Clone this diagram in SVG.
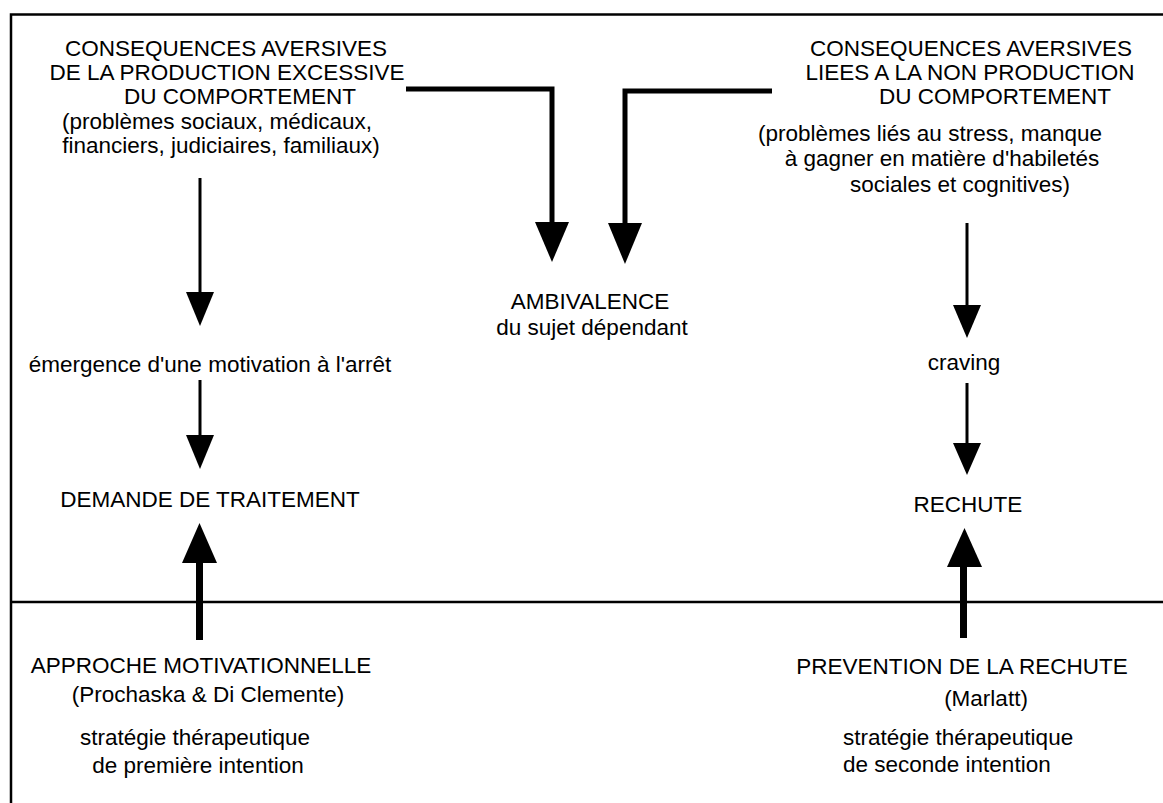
<svg xmlns="http://www.w3.org/2000/svg" width="1163" height="803" viewBox="0 0 1163 803">
<style>
text{font-family:"Liberation Sans",Arial,Helvetica,sans-serif;font-size:22.5px;fill:#000}
.m{text-anchor:middle}
.frame{stroke:#000;stroke-width:2.5;fill:none}
.thin{stroke:#000;stroke-width:3;fill:none}
.thick{stroke:#000;stroke-width:5;fill:none}
.up{stroke:#000;stroke-width:7;fill:none}
.head{fill:#000;stroke:none}
</style>
<rect width="1163" height="803" fill="#fff"/>
<g id="frame">
<path class="frame" d="M11,803 V14.5 H1163"/>
<path class="frame" d="M11,602 H1163"/>
</g>
<g id="connectors">
<path class="thin" d="M200,178 V294"/>
<polygon class="head" points="186,292 214,292 200,326"/>
<path class="thin" d="M200,380 V437"/>
<polygon class="head" points="186,435 214,435 200,469"/>
<path class="up" d="M199.5,640 V561"/>
<polygon class="head" points="182,563 217,563 199.5,523"/>
<path class="thick" d="M406,89 H552 V224"/>
<polygon class="head" points="535,222 569,222 552,262"/>
<path class="thick" d="M772,91 H625 V225"/>
<polygon class="head" points="608,223 642,223 625,264"/>
<path class="thin" d="M967,223 V307"/>
<polygon class="head" points="953,305 981,305 967,338"/>
<path class="thin" d="M967,383 V445"/>
<polygon class="head" points="953,443 981,443 967,475"/>
<path class="up" d="M963.5,638 V565"/>
<polygon class="head" points="947,567 982,567 964.5,528"/>
</g>
<g id="node-excess">
<text class="m" x="226" y="56">CONSEQUENCES AVERSIVES</text>
<text class="m" x="227" y="80">DE LA PRODUCTION EXCESSIVE</text>
<text class="m" x="240" y="104">DU COMPORTEMENT</text>
<text class="m" x="217" y="129">(problèmes sociaux, médicaux,</text>
<text class="m" x="221" y="153">financiers, judiciaires, familiaux)</text>
</g>
<g id="node-nonprod">
<text class="m" x="971" y="56">CONSEQUENCES AVERSIVES</text>
<text class="m" x="970" y="80">LIEES A LA NON PRODUCTION</text>
<text class="m" x="995" y="104">DU COMPORTEMENT</text>
<text class="m" x="930" y="141">(problèmes liés au stress, manque</text>
<text class="m" x="942" y="166">à gagner en matière d'habiletés</text>
<text class="m" x="960" y="192">sociales et cognitives)</text>
</g>
<g id="node-ambivalence">
<text class="m" x="590" y="309">AMBIVALENCE</text>
<text class="m" x="592" y="335">du sujet dépendant</text>
</g>
<g id="node-emergence">
<text class="m" x="210" y="372">émergence d'une motivation à l'arrêt</text>
</g>
<g id="node-demande">
<text class="m" x="210" y="507">DEMANDE DE TRAITEMENT</text>
</g>
<g id="node-craving">
<text class="m" x="964" y="370">craving</text>
</g>
<g id="node-rechute">
<text class="m" x="968" y="512">RECHUTE</text>
</g>
<g id="node-approche">
<text class="m" x="201" y="673">APPROCHE MOTIVATIONNELLE</text>
<text class="m" x="208" y="702">(Prochaska &amp; Di Clemente)</text>
<text class="m" x="195" y="745">stratégie thérapeutique</text>
<text class="m" x="198" y="773">de première intention</text>
</g>
<g id="node-prevention">
<text class="m" x="962" y="674">PREVENTION DE LA RECHUTE</text>
<text class="m" x="986" y="706">(Marlatt)</text>
<text x="843" y="745">stratégie thérapeutique</text>
<text x="843" y="772">de seconde intention</text>
</g>
</svg>
